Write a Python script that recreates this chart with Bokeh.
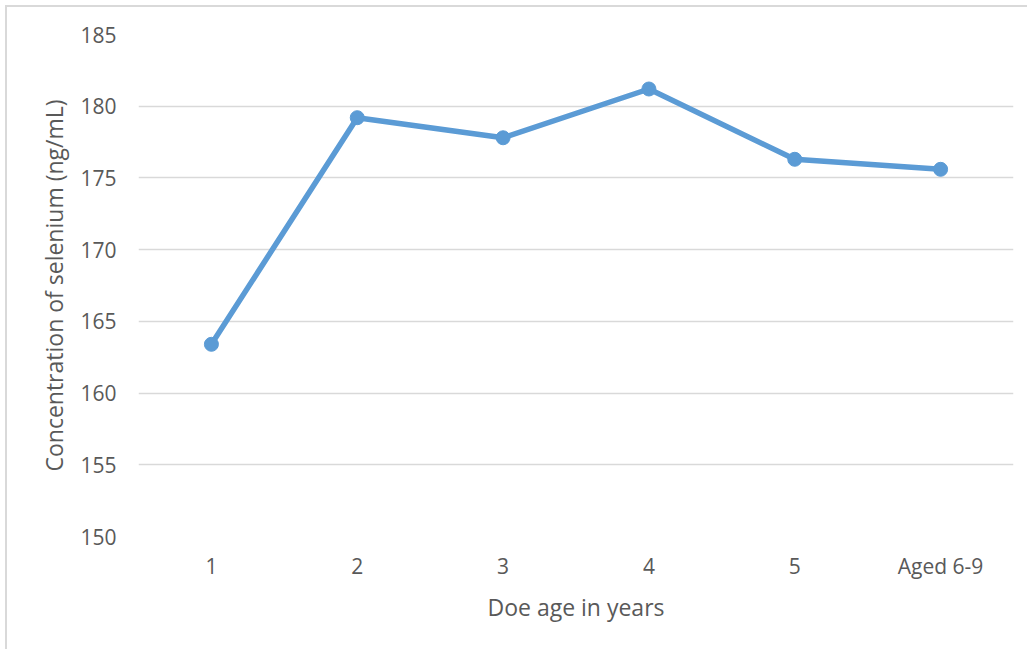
from bokeh.plotting import figure
from bokeh.models import ColumnDataSource, FactorRange, Range1d, FixedTicker
from bokeh.embed import file_html
from bokeh.resources import INLINE

# Doe age groups and mean selenium concentration (ng/mL)
ages = ["1", "2", "3", "4", "5", "Aged 6-9"]
selenium = [163.4, 179.2, 177.8, 181.2, 176.3, 175.6]
y_ticks = [150, 155, 160, 165, 170, 175, 180, 185]

FONT = "Open Sans"
TEXT_COLOR = "#595959"
LINE_COLOR = "#5b9bd5"

source = ColumnDataSource(data=dict(age=ages, se=selenium))

p = figure(
    width=1022, height=644,
    x_range=FactorRange(*ages),
    y_range=Range1d(150, 185),
    output_backend="svg",
    toolbar_location=None,
    min_border_left=131, min_border_right=16,
    min_border_top=27, min_border_bottom=115,
)
p.styles = {
    "margin-left": "5px", "margin-top": "5px",
    "border-left": "2px solid #d9d9d9", "border-top": "2px solid #d9d9d9",
}

p.line("age", "se", source=source, line_color=LINE_COLOR, line_width=5.5)
p.scatter("age", "se", source=source, size=14, fill_color=LINE_COLOR,
          line_color=LINE_COLOR)

p.outline_line_color = None
p.xgrid.grid_line_color = None
p.ygrid.grid_line_color = "#d9d9d9"
p.ygrid.grid_line_width = 1.3

p.yaxis.ticker = FixedTicker(ticks=y_ticks)
for ax in (p.xaxis[0], p.yaxis[0]):
    ax.axis_line_color = None
    ax.major_tick_line_color = None
    ax.minor_tick_line_color = None
    ax.major_tick_out = 0
    ax.major_tick_in = 0
    ax.major_label_text_font = FONT
    ax.major_label_text_font_size = "21px"
    ax.major_label_text_color = TEXT_COLOR
    ax.axis_label_text_font = FONT
    ax.axis_label_text_font_size = "23px"
    ax.axis_label_text_font_style = "normal"
    ax.axis_label_text_color = TEXT_COLOR

p.yaxis.major_label_standoff = 22
p.yaxis.axis_label = "Concentration of selenium (ng/mL)"
p.yaxis.axis_label_standoff = 7

p.xaxis.major_label_standoff = 15
p.xaxis.axis_label = "Doe age in years"
p.xaxis.axis_label_standoff = 8

open("out.html", "w").write(file_html(p, INLINE))
